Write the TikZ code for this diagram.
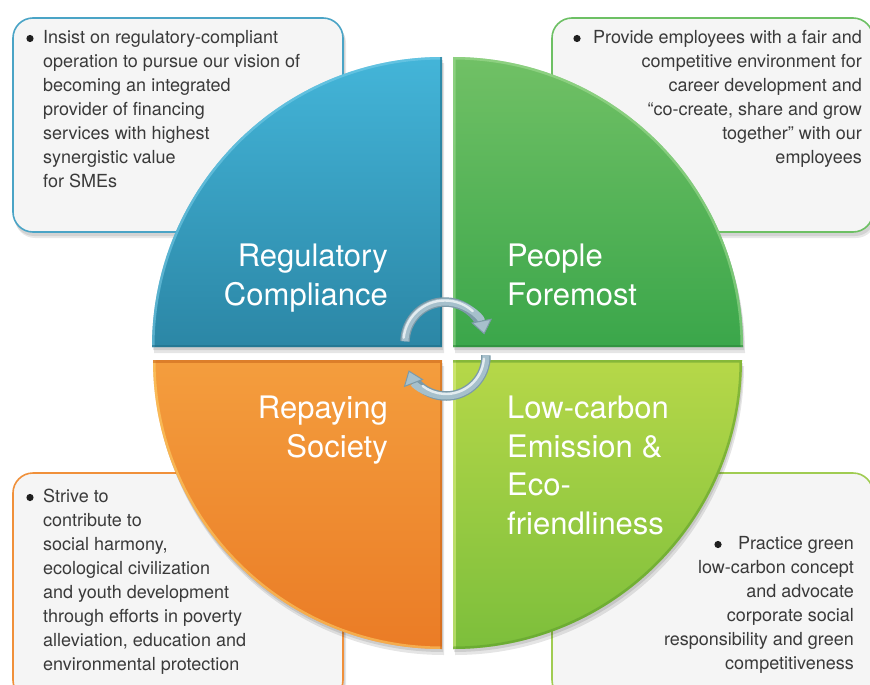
\documentclass[tikz,border=0pt]{standalone}
\usepackage{fontspec}
\setmainfont{TeX Gyre Heros}
\usetikzlibrary{arrows.meta}
\definecolor{boxfill}{HTML}{F5F5F5}
\definecolor{textgray}{HTML}{3A3A3A}
\definecolor{lineTL}{HTML}{4AA4C6}
\definecolor{lineTR}{HTML}{6DC064}
\definecolor{lineBL}{HTML}{F0903A}
\definecolor{lineBR}{HTML}{A0CC52}
\definecolor{blueT}{HTML}{44B6DA}
\definecolor{blueB}{HTML}{2B86A5}
\definecolor{blueE}{HTML}{1F6C86}
\definecolor{blueL}{HTML}{7CCFEA}
\definecolor{greenT}{HTML}{72C166}
\definecolor{greenB}{HTML}{3AA64A}
\definecolor{greenE}{HTML}{2A8638}
\definecolor{greenL}{HTML}{A5DE97}
\definecolor{orangeT}{HTML}{F49E3E}
\definecolor{orangeB}{HTML}{EA7B25}
\definecolor{orangeE}{HTML}{C9651A}
\definecolor{orangeL}{HTML}{FFD56E}
\definecolor{limeT}{HTML}{B7D849}
\definecolor{limeB}{HTML}{7BBE3B}
\definecolor{limeE}{HTML}{5E9E2C}
\definecolor{limeL}{HTML}{DDF08A}
\definecolor{arrowdark}{HTML}{7C9AA8}
\definecolor{arrowmid}{HTML}{A6C0CC}
\definecolor{arrowhl}{HTML}{E3ECF0}
\tikzset{
  infobox/.style={rounded corners=20pt, fill=boxfill, line width=1.6pt},
  boxshadow/.style={rounded corners=20pt, fill=black, opacity=0.09},
  qshadow/.style={fill=black, opacity=0.10},
  quadlabel/.style={font=\fontsize{31}{38.5}\selectfont, text=white, inner sep=0pt},
  bodytext/.style={font=\fontsize{18}{24}\selectfont, text=textgray, inner sep=0pt},
  bulletdot/.style={fill=black!88},
  lightedge/.style={line width=5pt, opacity=0.55},
  darkedge/.style={line width=5pt, opacity=0.55},
  arrowunder/.style={line width=9.5pt, draw=arrowdark},
  arrowover/.style={line width=7pt, draw=arrowmid},
  arrowshine/.style={line width=2.4pt, draw=arrowhl, line cap=round},
  bigtip/.style={-{Triangle[width=21pt,length=14pt,fill=arrowmid,color=arrowdark,line width=1pt]}}
}
\begin{document}
\begin{tikzpicture}[x=1pt,y=-1pt]
\useasboundingbox (0,0) rectangle (870,685);
\clip (0,0) rectangle (870,685);
\fill[white] (0,0) rectangle (870,685);

% ---- info boxes ----
\fill[boxshadow] (14,21) rectangle (345,236);
\fill[boxshadow] (15,23) rectangle (346,238);
\draw[infobox, draw=lineTL] (13,18) rectangle (343,232);
\fill[boxshadow] (553,21) rectangle (875,236);
\fill[boxshadow] (554,23) rectangle (876,238);
\draw[infobox, draw=lineTR] (552,18) rectangle (873,232);
\fill[boxshadow] (14,476) rectangle (345,704);
\fill[boxshadow] (15,478) rectangle (346,706);
\draw[infobox, draw=lineBL] (13,473) rectangle (343,700);
\fill[boxshadow] (553,476) rectangle (875,704);
\fill[boxshadow] (554,478) rectangle (876,706);
\draw[infobox, draw=lineBR] (552,473) rectangle (873,700);

% ---- quadrant shadows ----
\begin{scope}[shift={(1,3)}]
\fill[qshadow] (442,347) -- (152,347) arc[start angle=180,end angle=270,radius=290] -- cycle;
\fill[qshadow] (453,347) -- (453,57) arc[start angle=270,end angle=360,radius=290] -- cycle;
\fill[qshadow] (442,360) -- (442,649) arc[start angle=90,end angle=180,radius=289] -- cycle;
\fill[qshadow] (453,360) -- (742,360) arc[start angle=0,end angle=90,radius=289] -- cycle;
\end{scope}
\begin{scope}[shift={(2,6)}]
\fill[qshadow] (442,347) -- (152,347) arc[start angle=180,end angle=270,radius=290] -- cycle;
\fill[qshadow] (453,347) -- (453,57) arc[start angle=270,end angle=360,radius=290] -- cycle;
\fill[qshadow] (442,360) -- (442,649) arc[start angle=90,end angle=180,radius=289] -- cycle;
\fill[qshadow] (453,360) -- (742,360) arc[start angle=0,end angle=90,radius=289] -- cycle;
\end{scope}

% ---- quadrants (with bevel edges) ----
\begin{scope}
\clip (442,347) -- (152,347) arc[start angle=180,end angle=270,radius=290] -- cycle;
\shade[top color=blueT, bottom color=blueB] (140,50) rectangle (450,350);
\draw[lightedge, draw=blueL] (152,347) arc[start angle=180,end angle=270,radius=290];
\draw[darkedge, draw=blueE] (152,347) -- (442,347) -- (442,57);
\end{scope}
\begin{scope}
\clip (453,347) -- (453,57) arc[start angle=270,end angle=360,radius=290] -- cycle;
\shade[top color=greenT, bottom color=greenB] (450,50) rectangle (750,350);
\draw[lightedge, draw=greenL] (453,347) -- (453,57) arc[start angle=270,end angle=360,radius=290];
\draw[darkedge, draw=greenE] (743,347) -- (453,347);
\end{scope}
\begin{scope}
\clip (442,360) -- (442,649) arc[start angle=90,end angle=180,radius=289] -- cycle;
\shade[top color=orangeT, bottom color=orangeB] (140,355) rectangle (450,655);
\draw[lightedge, draw=orangeL] (442,649) arc[start angle=90,end angle=180,radius=289];
\draw[darkedge, draw=orangeE] (153,360) -- (442,360) -- (442,649);
\end{scope}
\begin{scope}
\clip (453,360) -- (742,360) arc[start angle=0,end angle=90,radius=289] -- cycle;
\shade[top color=limeT, bottom color=limeB] (450,355) rectangle (750,655);
\draw[lightedge, draw=limeL] (453,649) -- (453,360);
\draw[darkedge, draw=limeE] (453,360) -- (742,360) arc[start angle=0,end angle=90,radius=289];
\end{scope}

% ---- quadrant labels ----
\node[quadlabel, anchor=north east, align=right] (lblTL) at (388,244) {Regulatory\\Compliance};
\node[quadlabel, anchor=north west, align=left] (lblTR) at (507,244) {People\\Foremost};
\node[quadlabel, anchor=north east, align=right] (lblBL) at (388,396) {Repaying\\Society};
\node[quadlabel, anchor=north west, align=left] (lblBR) at (507,396) {Low-carbon\\Emission \&\\Eco-\\friendliness};

% ---- cycle arrows ----
\coordinate (cTop) at (445,342);
\coordinate (cBot) at (446,356);
\draw[arrowunder] (cTop) ++(181:40) arc[start angle=181,end angle=328,radius=40];
\draw[arrowover, bigtip] (cTop) ++(181:40) arc[start angle=181,end angle=349,radius=40];
\draw[arrowshine] (cTop) ++(186:41.5) arc[start angle=186,end angle=312,radius=41.5];
\draw[arrowunder] (cBot) ++(-1:40) arc[start angle=-1,end angle=138,radius=40];
\draw[arrowover, bigtip] (cBot) ++(-1:40) arc[start angle=-1,end angle=159,radius=40];
\draw[arrowshine] (cBot) ++(4:38) arc[start angle=4,end angle=128,radius=38];

% ---- body texts ----
\fill[bulletdot] (30,38.5) circle[radius=3.6];
\node[bodytext, anchor=north west, align=left] (txtTL) at (43,30) {Insist on regulatory-compliant\\operation to pursue our vision of\\becoming an integrated\\provider of financing\\services with highest\\synergistic value\\for SMEs};
\fill[bulletdot] (577,38.5) circle[radius=3.6];
\node[bodytext, anchor=north east, align=right] (txtTR) at (862,30) {Provide employees with a fair and\\competitive environment for\\career development and\\“co-create, share and grow\\together” with our\\employees};
\fill[bulletdot] (30,497.5) circle[radius=3.6];
\node[bodytext, anchor=north west, align=left] (txtBL) at (43,489) {Strive to\\contribute to\\social harmony,\\ecological civilization\\and youth development\\through efforts in poverty\\alleviation, education and\\environmental protection};
\fill[bulletdot] (718,544.5) circle[radius=3.6];
\node[bodytext, anchor=north east, align=right] (txtBR) at (854,536) {Practice green\\low-carbon concept\\and advocate\\corporate social\\responsibility and green\\competitiveness};
\end{tikzpicture}
\end{document}
